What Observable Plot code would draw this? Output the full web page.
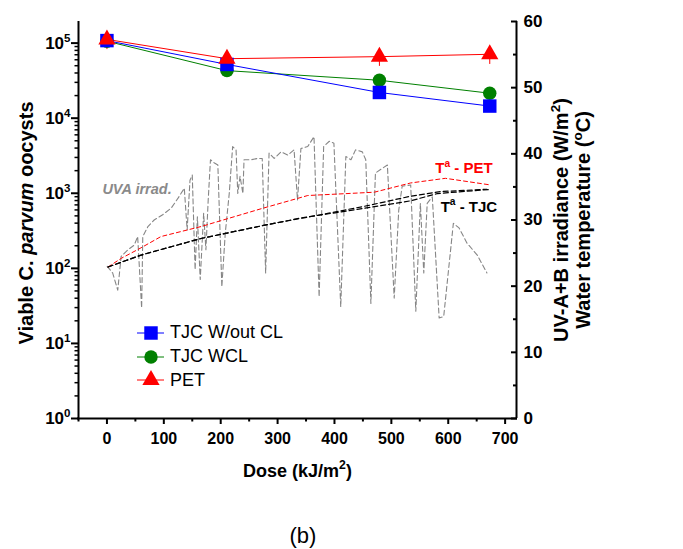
<!DOCTYPE html>
<html>
<head>
<meta charset="utf-8">
<script src="https://cdn.jsdelivr.net/npm/d3@7"></script>
<script src="https://cdn.jsdelivr.net/npm/@observablehq/plot@0.6"></script>
<style>
  body { margin: 0; background: #fff; font-family: "Liberation Sans", Arial, sans-serif; }
  #wrap { position: relative; width: 683px; height: 549px; overflow: hidden; }
  #legend { position: absolute; left: 134px; top: 321px; }
  .lrow { height: 23.7px; display: flex; align-items: center; font-size: 18px; color: #000; white-space: nowrap; }
  .lrow svg { margin-right: 4px; }
  #caption { position: absolute; left: 253px; top: 523px; width: 100px; text-align: center; font-size: 22px; line-height: 26px; }
</style>
</head>
<body>
<div id="wrap"></div>
<script>
// ---- Data ----
const DOSE = [0, 211, 479, 673];
const TJC_WOUT_CL = [1.08e5, 5.2e4, 2.2e4, 1.45e4];
const TJC_WCL = [1.06e5, 4.3e4, 3.2e4, 2.15e4];
const PET = [1.12e5, 6.2e4, 6.6e4, 7.1e4];
const TJC_WOUT_CL_ERR = [1.2e4, 7e3, 3e3, 2e3];
const TJC_WCL_ERR = [1e4, 4e3, 4e3, 3e3];
const PET_ERR = [3e4, 5e3, 1.7e4, 1.9e4];
const SERIES_NAMES = ["TJC W/out CL", "TJC WCL", "PET"];
const SERIES_COLORS = ["#0000ff", "#008000", "#ff0000"];
const SERIES_SYMBOLS = ["square", "circle", "triangle"];
const SERIES_R = [7.6, 6.7, 6.4];

// Water temperature (right axis, ºC)
const TEMP_PET_DOSE = [2, 25, 60, 95, 165, 271, 353, 470, 534, 595, 674];
const TEMP_PET = [22.9, 24.2, 25.8, 27.5, 29.0, 31.7, 33.7, 34.2, 35.6, 36.3, 35.3];
const TEMP_TJC_A_DOSE = [2, 60, 165, 282, 341, 440, 534, 581, 671];
const TEMP_TJC_A = [22.9, 24.7, 27.2, 29.3, 30.3, 31.6, 32.9, 34.0, 34.6];
const TEMP_TJC_B_DOSE = [2, 60, 165, 282, 382, 460, 534, 587, 668];
const TEMP_TJC_B = [22.9, 24.7, 27.2, 29.3, 30.9, 32.2, 33.6, 34.3, 34.65];

// UV-A+B irradiance (right axis, W/m2)
const UVA_DOSE = [0.5, 10, 19, 25, 37, 48, 54, 61, 63, 72, 83, 98, 113, 125, 136, 141, 146, 150, 155, 159, 164, 170, 174, 178, 182, 189, 195, 202, 208, 215, 221, 227, 230, 234, 239, 241, 253, 265, 273, 279, 285, 294, 306, 318, 329, 335, 341, 353, 364, 373, 381, 391, 399, 411, 420, 429, 437, 449, 455, 464, 472, 484, 493, 505, 513, 519, 534, 543, 551, 557, 563, 572, 584, 592, 609, 619, 633, 651, 668];
const UVA_IRR = [23.0, 22.0, 19.4, 24.5, 25.5, 26.2, 27.5, 16.7, 27.5, 29.0, 30.0, 30.8, 31.8, 33.3, 34.8, 28.5, 36.0, 36.8, 22.5, 30.5, 21.0, 31.0, 25.5, 33.0, 39.1, 38.6, 38.3, 19.9, 28.0, 34.0, 41.1, 40.6, 34.0, 36.6, 34.0, 39.1, 39.1, 39.3, 39.3, 22.0, 40.1, 39.3, 40.3, 39.8, 40.6, 33.0, 40.8, 41.1, 42.6, 18.4, 41.1, 41.9, 41.6, 16.9, 39.6, 39.1, 40.6, 40.3, 39.1, 17.4, 37.1, 37.8, 38.3, 18.2, 31.5, 35.1, 35.3, 16.2, 32.5, 22.0, 32.5, 33.5, 15.2, 15.4, 29.5, 28.8, 26.5, 24.7, 22.0];

// Annotations (data coordinates, right axis units)
const NOTE_TEXT = ["UVA irrad.", "T^a - PET", "T^a - TJC"];
const NOTE_DOSE = [-8, 678, 686];
const NOTE_VALUE = [34.6, 37.8, 32.0];
const NOTE_COLOR = ["#8a8a8a", "#ff0000", "#000000"];

// Axes
const X_DOMAIN = [-50, 720];
const X_TICKS = [0, 100, 200, 300, 400, 500, 600, 700];
const X_MINOR = [-50, 50, 150, 250, 350, 450, 550, 650];
const Y_DOMAIN = [1, 1.94e5];
const Y_TICKS = [1, 10, 100, 1000, 10000, 100000];
const Y_MINOR = [1, 10, 100, 1000, 10000, 100000].flatMap(d => [2,3,4,5,6,7,8,9].map(k => k * d)).filter(v => v <= Y_DOMAIN[1]);
const R_DOMAIN = [0, 60];
const R_TICKS = [0, 10, 20, 30, 40, 50, 60];
const R_MINOR = [5, 15, 25, 35, 45, 55];

const X_TITLE = "Dose (kJ/m^2)";
const Y_TITLE = "Viable C. _parvum_ oocysts";
const R_TITLE_1 = "UV-A+B irradiance (W/m^2)";
const R_TITLE_2 = "Water temperature (^oC)";

// ---- Map right-axis values into the shared (log) y scale ----
const LTOP = Math.log10(Y_DOMAIN[1]);
const r2y = v => Math.pow(10, (v - R_DOMAIN[0]) / (R_DOMAIN[1] - R_DOMAIN[0]) * LTOP);

const seriesValues = [TJC_WOUT_CL, TJC_WCL, PET];
const seriesErr = [TJC_WOUT_CL_ERR, TJC_WCL_ERR, PET_ERR];
const seriesRows = seriesValues.map((vals, s) => DOSE.map((d, i) => ({dose: d, value: vals[i], err: seriesErr[s][i]})));

const toRows = (xs, ys) => xs.map((x, i) => ({dose: x, value: r2y(ys[i])}));
const uvaRows = toRows(UVA_DOSE, UVA_IRR);
const petTRows = toRows(TEMP_PET_DOSE, TEMP_PET);
const tjcARows = toRows(TEMP_TJC_A_DOSE, TEMP_TJC_A);
const tjcBRows = toRows(TEMP_TJC_B_DOSE, TEMP_TJC_B);
const notes = NOTE_TEXT.map((t, i) => ({text: t, dose: NOTE_DOSE[i], value: r2y(NOTE_VALUE[i]), color: NOTE_COLOR[i]}));

const order = [1, 0, 2]; // green under blue under red
const marks = [
  Plot.line(uvaRows, {x: "dose", y: "value", stroke: "#868686", strokeWidth: 1.1, strokeDasharray: "5,3"}),
  Plot.line(petTRows, {x: "dose", y: "value", stroke: "#ff0000", strokeWidth: 1, strokeDasharray: "4,3"}),
  Plot.line(tjcBRows, {x: "dose", y: "value", stroke: "#000000", strokeWidth: 1.2, strokeDasharray: "5,3"}),
  Plot.line(tjcARows, {x: "dose", y: "value", stroke: "#000000", strokeWidth: 1.2, strokeDasharray: "5,3"}),
];
for (const s of order) {
  marks.push(Plot.line(seriesRows[s], {x: "dose", y: "value", stroke: SERIES_COLORS[s], strokeWidth: 1}));
}
for (const s of order) {
  marks.push(Plot.ruleX(seriesRows[s], {x: "dose", y1: d => d.value - d.err, y2: d => d.value + d.err, stroke: SERIES_COLORS[s], strokeWidth: 1}));
}
for (const s of order) {
  marks.push(Plot.dot(seriesRows[s], {x: "dose", y: "value", symbol: SERIES_SYMBOLS[s], r: SERIES_R[s], fill: SERIES_COLORS[s], stroke: "none"}));
}
// annotations
notes.forEach((n, i) => {
  marks.push(Plot.text([n], {x: "dose", y: "value", text: "text", fill: n.color,
    textAnchor: i === 0 ? "start" : "end", fontSize: i === 0 ? 14.5 : 15, fontWeight: "bold",
    fontStyle: i === 0 ? "italic" : "normal"}));
});
// axis frame lines
marks.push(
  Plot.ruleX([X_DOMAIN[0], X_DOMAIN[1]], {stroke: "#000", strokeWidth: 2}),
  Plot.ruleY([Y_DOMAIN[0]], {stroke: "#000", strokeWidth: 2, strokeLinecap: "square"}),
  // bottom axis
  Plot.axisX(X_TICKS, {tickSize: 6, strokeWidth: 2, tickPadding: 8, fontSize: 16, fontWeight: "bold", label: null, fill: "#000"}),
  Plot.axisX(X_MINOR, {tickSize: 3.5, strokeWidth: 2, fill: "none", label: null}),
  // left axis
  Plot.axisY(Y_TICKS, {anchor: "left", tickSize: 7, strokeWidth: 2, tickPadding: 1, fontSize: 17, fontWeight: "bold",
    tickFormat: d => "10^" + Math.round(Math.log10(d)), label: null, fill: "#000"}),
  Plot.axisY(Y_MINOR, {anchor: "left", tickSize: 3.5, strokeWidth: 1.5, fill: "none", label: null}),
  // right axis (ticks inward)
  Plot.axisY(R_TICKS.map(r2y), {anchor: "right", tickSize: 6, dx: -6, strokeWidth: 2, fill: "none", label: null}),
  Plot.axisY(R_MINOR.map(r2y), {anchor: "right", tickSize: 4, dx: -4, strokeWidth: 2, fill: "none", label: null}),
  Plot.text(R_TICKS, {y: d => r2y(d), text: d => String(d), frameAnchor: "right", textAnchor: "start", dx: 7,
    fontSize: 17, fontWeight: "bold", fill: "#000"}),
  // titles
  Plot.text([Y_TITLE], {frameAnchor: "left", textAnchor: "middle", rotate: -90, dx: -52, dy: 3, fontSize: 20, fontWeight: "bold", fill: "#000"}),
  Plot.text([R_TITLE_1], {frameAnchor: "right", textAnchor: "middle", rotate: -90, dx: 45, dy: 0, fontSize: 20, fontWeight: "bold", fill: "#000"}),
  Plot.text([R_TITLE_2], {frameAnchor: "right", textAnchor: "middle", rotate: -90, dx: 67, dy: 0, fontSize: 20, fontWeight: "bold", fill: "#000"}),
  Plot.text([X_TITLE], {frameAnchor: "bottom", textAnchor: "middle", dy: 58, fontSize: 18, fontWeight: "bold", fill: "#000"})
);

const chart = Plot.plot({
  width: 683,
  height: 500,
  marginLeft: 78,
  marginRight: 167,
  marginTop: 21,
  marginBottom: 82,
  style: {fontFamily: "'Liberation Sans', Arial, sans-serif", fontSize: "16px", background: "#fff", overflow: "visible", color: "#000"},
  x: {domain: X_DOMAIN},
  y: {type: "log", domain: Y_DOMAIN},
  marks
});

// rich text: ^x -> superscript, _text_ -> italic
const SVGNS = "http://www.w3.org/2000/svg";
function richify(root) {
  root.querySelectorAll("text").forEach(t => {
    if (t.querySelector("tspan")) return;
    const s = t.textContent;
    if (!/[\^_]/.test(s)) return;
    t.textContent = "";
    const re = /\^(.)|_([^_]+)_|([^\^_]+)/g;
    let m, shifted = false;
    while ((m = re.exec(s))) {
      const ts = document.createElementNS(SVGNS, "tspan");
      if (m[1] !== undefined) {
        ts.textContent = m[1];
        ts.setAttribute("font-size", "0.68em");
        ts.setAttribute("dy", "-0.6em");
        shifted = true;
      } else {
        ts.textContent = m[2] !== undefined ? m[2] : m[3];
        if (m[2] !== undefined) ts.setAttribute("font-style", "italic");
        if (shifted) { ts.setAttribute("dy", "0.408em"); shifted = false; }
      }
      t.appendChild(ts);
    }
  });
}
richify(chart);

const wrap = document.getElementById("wrap");
wrap.appendChild(chart);

// legend
const legend = document.createElement("div");
legend.id = "legend";
SERIES_NAMES.forEach((name, s) => {
  const row = document.createElement("div");
  row.className = "lrow";
  const sw = d3.create("svg").attr("width", 32).attr("height", 22);
  sw.append("line").attr("x1", 3).attr("x2", 30).attr("y1", 11).attr("y2", 11).attr("stroke", SERIES_COLORS[s]).attr("stroke-width", 1);
  const sym = {square: d3.symbolSquare, circle: d3.symbolCircle, triangle: d3.symbolTriangle}[SERIES_SYMBOLS[s]];
  sw.append("path").attr("transform", "translate(17,11)").attr("d", d3.symbol(sym, Math.PI * SERIES_R[s] * SERIES_R[s])()).attr("fill", SERIES_COLORS[s]);
  row.appendChild(sw.node());
  const label = document.createElement("span");
  label.textContent = name;
  row.appendChild(label);
  legend.appendChild(row);
});
wrap.appendChild(legend);

const cap = document.createElement("div");
cap.id = "caption";
cap.textContent = "(b)";
wrap.appendChild(cap);
</script>
</body>
</html>
